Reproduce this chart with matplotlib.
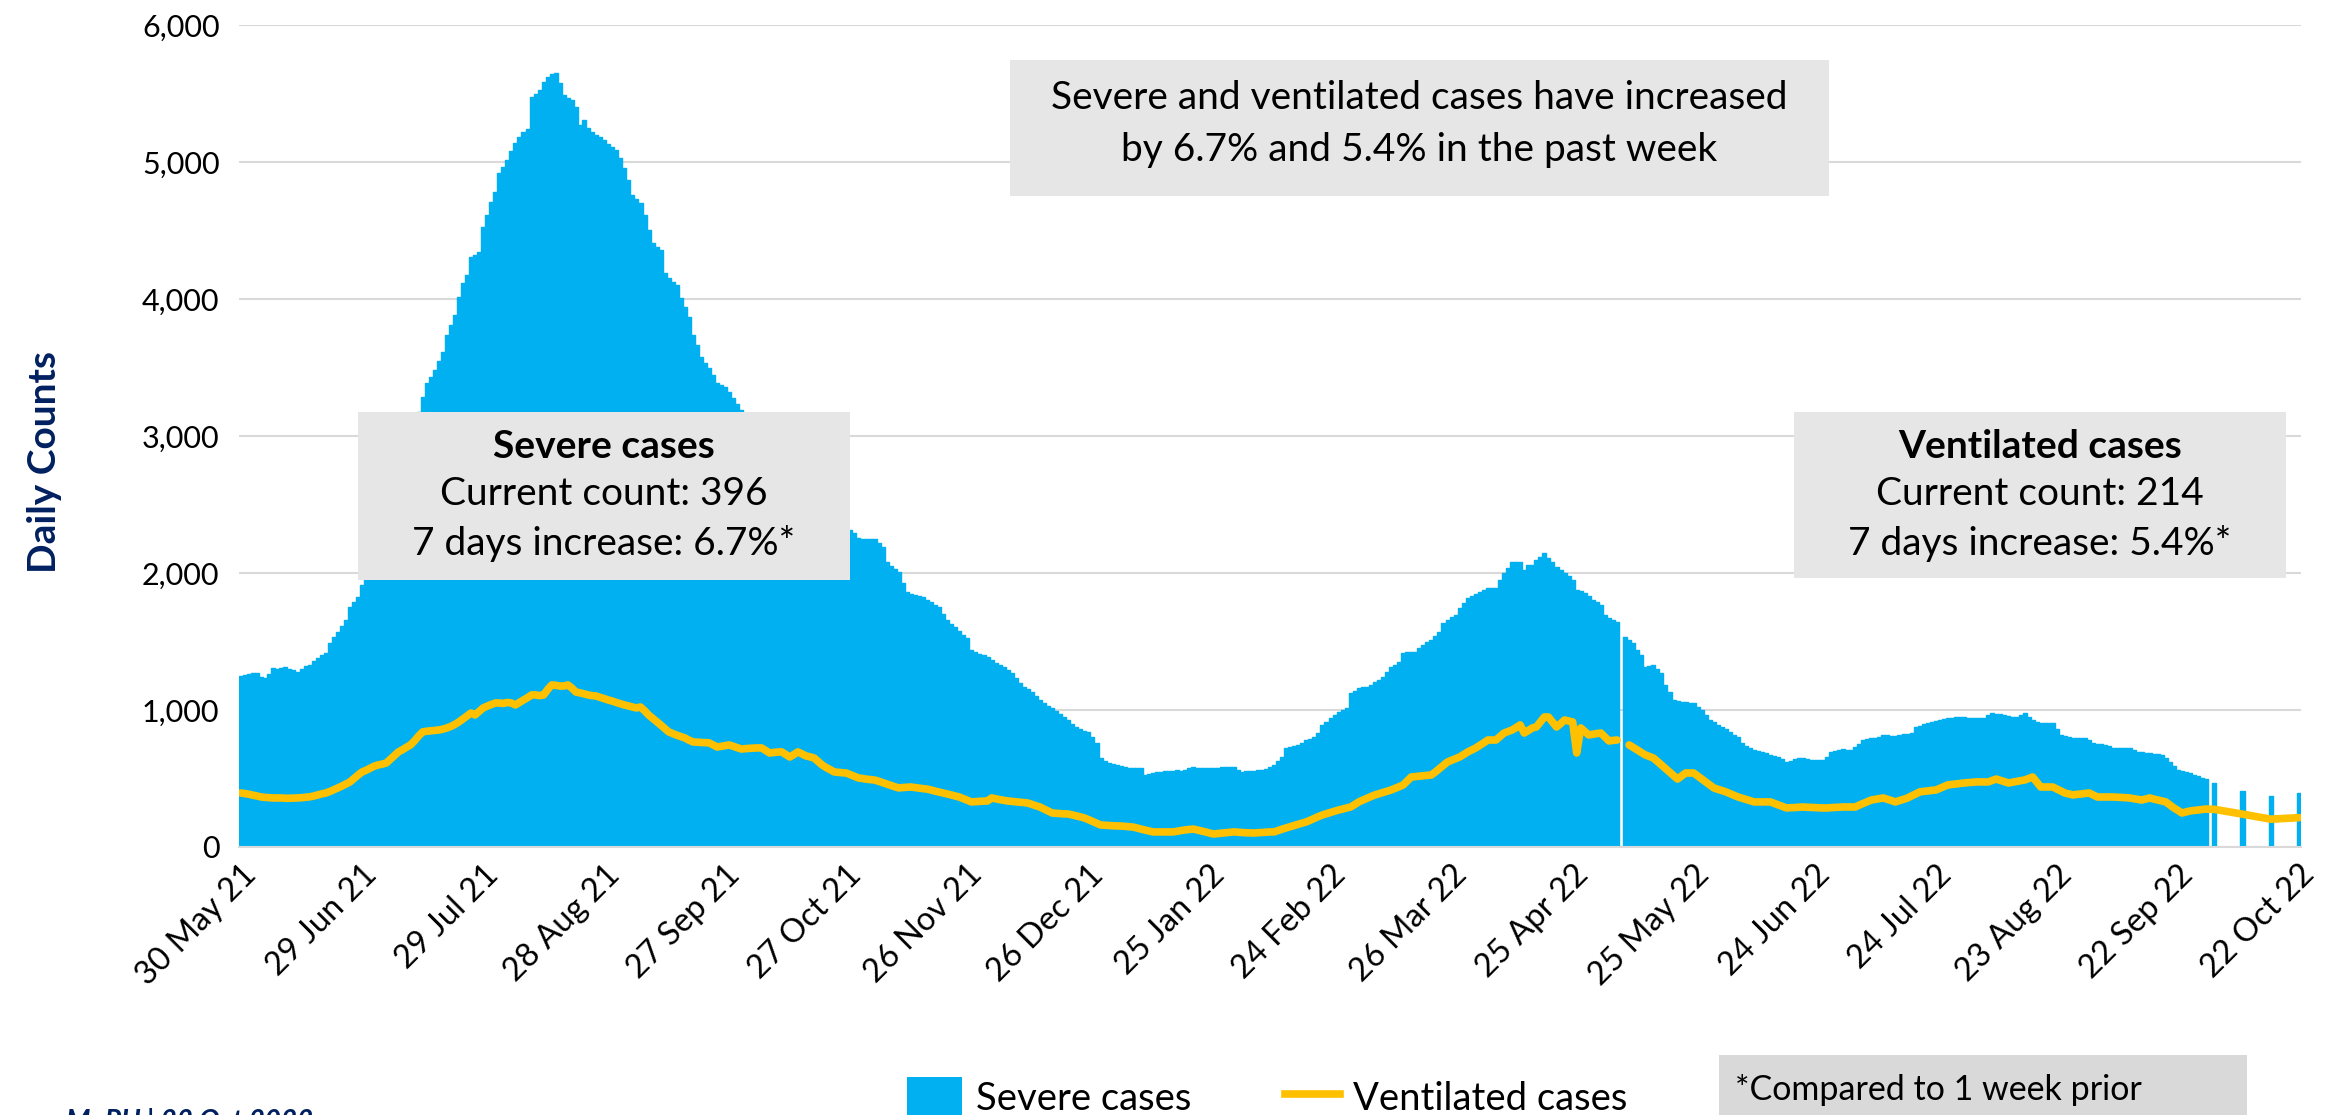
import numpy as np
import matplotlib
matplotlib.use("Agg")
import matplotlib.pyplot as plt
from matplotlib.patches import Rectangle, Patch
from matplotlib.lines import Line2D

nan = float("nan")

# ---------------- data (daily, from 30 May 21 to 22 Oct 22) ----------------
severe = [
    1250, 1255, 1262, 1270, 1270, 1240, 1233, 1260, 1305, 1300,
    1310, 1314, 1300, 1290, 1278, 1300, 1320, 1330, 1355, 1380,
    1400, 1416, 1490, 1530, 1570, 1610, 1657, 1750, 1790, 1825,
    1913, 1990, 2060, 2120, 2200, 2290, 2380, 2470, 2560, 2650,
    2760, 2860, 2960, 3070, 3175, 3285, 3390, 3430, 3480, 3550,
    3614, 3738, 3810, 3884, 4015, 4117, 4176, 4307, 4320, 4343,
    4526, 4614, 4708, 4781, 4920, 4960, 5015, 5080, 5140, 5183,
    5220, 5241, 5475, 5500, 5526, 5585, 5621, 5640, 5650, 5577,
    5490, 5470, 5453, 5402, 5270, 5307, 5249, 5220, 5197, 5180,
    5161, 5130, 5110, 5088, 5030, 4957, 4869, 4760, 4730, 4701,
    4614, 4504, 4409, 4380, 4358, 4190, 4150, 4124, 4103, 4008,
    3942, 3869, 3738, 3665, 3577, 3530, 3497, 3446, 3387, 3370,
    3358, 3320, 3278, 3230, 3190, 3150, 3120, 3080, 3040, 3000,
    2960, 2920, 2880, 2850, 2810, 2780, 2750, 2710, 2680, 2640,
    2610, 2580, 2540, 2510, 2480, 2450, 2420, 2390, 2370, 2350,
    2330, 2314, 2290, 2256, 2250, 2250, 2248, 2248, 2220, 2190,
    2080, 2050, 2030, 2008, 1927, 1862, 1850, 1840, 1832, 1825,
    1805, 1788, 1770, 1752, 1700, 1657, 1630, 1606, 1580, 1550,
    1526, 1438, 1425, 1412, 1402, 1385, 1365, 1345, 1330, 1314,
    1290, 1270, 1230, 1200, 1168, 1150, 1131, 1100, 1073, 1050,
    1030, 1015, 990, 970, 949, 925, 900, 876, 860, 850,
    840, 800, 759, 650, 630, 615, 605, 599, 590, 585,
    577, 580, 578, 577, 526, 530, 540, 545, 548, 552,
    555, 558, 560, 555, 565, 575, 584, 580, 578, 576,
    577, 577, 580, 582, 584, 586, 584, 560, 548, 552,
    556, 558, 560, 562, 570, 585, 599, 630, 660, 723,
    730, 740, 745, 760, 781, 790, 800, 832, 891, 915,
    942, 965, 986, 1000, 1015, 1124, 1140, 1161, 1165, 1168,
    1185, 1205, 1220, 1241, 1280, 1314, 1330, 1350, 1416, 1420,
    1422, 1424, 1450, 1475, 1495, 1511, 1540, 1570, 1635, 1660,
    1680, 1694, 1745, 1780, 1818, 1835, 1850, 1862, 1875, 1891,
    1891, 1891, 1949, 2000, 2040, 2080, 2082, 2080, 2022, 2059,
    2059, 2095, 2120, 2146, 2110, 2080, 2044, 2020, 2000, 1975,
    1949, 1876, 1865, 1854, 1830, 1803, 1785, 1767, 1694, 1675,
    1657, 1642, nan, 1533, 1510, 1489, 1440, 1402, 1314, 1320,
    1329, 1300, 1270, 1183, 1130, 1073, 1065, 1058, 1055, 1053,
    1051, 1025, 1000, 960, 927, 910, 893, 876, 858, 840,
    820, 803, 759, 740, 720, 708, 700, 693, 686, 675,
    665, 657, 640, 621, 630, 640, 648, 650, 642, 635,
    635, 635, 635, 660, 694, 700, 708, 715, 710, 708,
    730, 755, 781, 788, 792, 796, 805, 818, 815, 812,
    810, 815, 822, 828, 832, 876, 885, 895, 905, 912,
    920, 927, 935, 942, 945, 947, 949, 946, 944, 942,
    942, 942, 942, 960, 978, 972, 968, 964, 958, 952,
    949, 960, 978, 950, 927, 915, 905, 905, 905, 905,
    860, 818, 810, 803, 796, 796, 796, 796, 778, 759,
    755, 750, 745, 735, 723, 723, 723, 723, 723, 708,
    694, 690, 688, 686, 680, 676, 672, 650, 621, 590,
    562, 555, 548, 537, 526, 515, 504, 500, nan, 465,
    nan, nan, nan, nan, nan, nan, 410, nan, nan, nan,
    nan, nan, nan, 371, nan, nan, nan, nan, nan, nan,
    396,
]

ventilated = [
    394, 390, 385, 378, 372, 365, 362, 360, 358, 358,
    358, 356, 356, 357, 358, 360, 363, 366, 372, 380,
    388, 394, 405, 418, 431, 445, 460, 475, 500, 525,
    548, 560, 575, 590, 599, 605, 613, 640, 668, 694,
    710, 728, 745, 775, 810, 840, 845, 848, 851, 854,
    860, 869, 880, 895, 913, 935, 958, 978, 964, 990,
    1015, 1028, 1040, 1051, 1051, 1048, 1055, 1051, 1037, 1055,
    1073, 1090, 1110, 1110, 1105, 1110, 1150, 1183, 1180, 1175,
    1175, 1183, 1160, 1131, 1125, 1118, 1110, 1105, 1102, 1092,
    1083, 1073, 1065, 1055, 1046, 1037, 1030, 1022, 1015, 1022,
    995, 964, 940, 915, 891, 865, 840, 828, 816, 806,
    796, 780, 767, 765, 763, 762, 760, 745, 730, 735,
    740, 745, 735, 725, 715, 718, 720, 722, 723, 723,
    705, 686, 690, 693, 694, 675, 657, 675, 694, 680,
    665, 658, 650, 625, 599, 580, 565, 548, 545, 542,
    540, 528, 516, 504, 500, 495, 492, 489, 480, 470,
    460, 450, 440, 431, 434, 436, 438, 434, 430, 426,
    423, 416, 408, 401, 394, 387, 380, 372, 365, 353,
    341, 329, 331, 333, 335, 336, 358, 352, 346, 341,
    336, 333, 330, 327, 324, 321, 311, 301, 292, 277,
    263, 248, 246, 244, 242, 241, 234, 227, 220, 212,
    200, 187, 174, 161, 159, 157, 155, 154, 153, 151,
    148, 146, 139, 131, 124, 117, 110, 110, 110, 110,
    110, 110, 115, 120, 125, 128, 131, 124, 117, 110,
    102, 95, 98, 101, 104, 107, 110, 108, 106, 104,
    103, 102, 104, 106, 108, 110, 110, 120, 130, 139,
    148, 157, 166, 175, 183, 196, 209, 222, 234, 243,
    252, 261, 270, 277, 285, 292, 310, 329, 342, 355,
    368, 380, 389, 398, 407, 416, 428, 440, 453, 482,
    511, 514, 517, 520, 523, 526, 548, 572, 597, 621,
    633, 645, 657, 675, 694, 708, 723, 742, 761, 781,
    781, 781, 806, 832, 843, 854, 872, 891, 832, 850,
    869, 876, 912, 949, 949, 912, 876, 900, 927, 920,
    913, 686, 869, 843, 818, 823, 828, 832, 803, 774,
    778, 781, nan, nan, 745, 727, 709, 690, 672, 661,
    650, 625, 599, 573, 547, 522, 496, 518, 540, 540,
    540, 518, 497, 475, 453, 431, 421, 412, 402, 390,
    377, 365, 356, 347, 338, 329, 329, 329, 329, 329,
    318, 307, 296, 285, 287, 288, 290, 292, 290, 289,
    288, 286, 285, 285, 287, 289, 290, 292, 292, 292,
    292, 305, 318, 330, 343, 348, 353, 358, 348, 339,
    329, 339, 348, 358, 373, 387, 402, 406, 409, 413,
    416, 428, 441, 453, 457, 460, 464, 467, 470, 472,
    475, 475, 475, 475, 486, 496, 486, 477, 467, 473,
    478, 484, 489, 500, 511, 475, 438, 438, 438, 438,
    423, 409, 394, 387, 380, 384, 387, 391, 394, 380,
    365, 365, 365, 365, 365, 363, 362, 360, 358, 353,
    348, 343, 350, 358, 350, 343, 336, 329, 307, 285,
    267, 248, 256, 263, 267, 270, 274, 277, nan, 275,
    nan, nan, nan, nan, nan, nan, 240, nan, nan, nan,
    nan, nan, nan, 203, nan, nan, nan, nan, nan, nan,
    214,
]

tick_days = [0, 30, 60, 90, 120, 150, 180, 210, 240, 270, 300, 330,
             360, 390, 420, 450, 480, 510]
tick_labels = ["30 May 21", "29 Jun 21", "29 Jul 21", "28 Aug 21", "27 Sep 21",
               "27 Oct 21", "26 Nov 21", "26 Dec 21", "25 Jan 22", "24 Feb 22",
               "26 Mar 22", "25 Apr 22", "25 May 22", "24 Jun 22", "24 Jul 22",
               "23 Aug 22", "22 Sep 22", "22 Oct 22"]
y_ticks = [0, 1000, 2000, 3000, 4000, 5000, 6000]

# ---------------- styling ----------------
W, H = 2335, 1115
CYAN = "#00B0F0"
GOLD = "#FFC000"
NAVY = "#002060"
BOXGREY = "#E7E6E6"
plt.rcParams["font.family"] = ["Lato", "DejaVu Sans"]

def fx(x):
    return x / W

def fy(y):
    return 1 - y / H

fig = plt.figure(figsize=(W / 100, H / 100), dpi=100)
ax = fig.add_axes([fx(239), fy(847), fx(2301) - fx(239), fy(25) - fy(847)])

days = np.arange(len(severe))
sev = np.array(severe, dtype=float)
ven = np.array(ventilated, dtype=float)

ok = ~np.isnan(sev)
ax.bar(days[ok], sev[ok], width=1.0, color=CYAN, edgecolor=CYAN,
       linewidth=1.0, joinstyle="round", zorder=2)

# ventilated: daily part (with its gap) then the weekly tail joined up
split = 342
ax.plot(days[:split], ven[:split], color=GOLD, lw=5.5, solid_capstyle="round",
        solid_joinstyle="round", zorder=3)
tail = days[split:]
tv = ven[split:]
m = ~np.isnan(tv)
ax.plot(tail[m], tv[m], color=GOLD, lw=5.5, solid_capstyle="round",
        solid_joinstyle="round", zorder=3)

ax.set_xlim(-0.5, len(severe) - 0.5)
ax.set_ylim(0, 6000)
ax.set_yticks(y_ticks)
ax.set_yticklabels([f"{v:,}" for v in y_ticks])
ax.set_xticks(tick_days)
ax.set_xticklabels(tick_labels, rotation=45, ha="right", va="top",
                   rotation_mode="anchor")
ax.tick_params(axis="y", length=0, pad=14, labelsize=22, labelcolor="#000000")
ax.tick_params(axis="x", length=0, pad=9, labelsize=23.5, labelcolor="#000000")
ax.grid(axis="y", color="#D9D9D9", lw=1.5, zorder=0)
ax.set_axisbelow(True)
for s in ["top", "right", "left"]:
    ax.spines[s].set_visible(False)
ax.spines["bottom"].set_color("#D9D9D9")
ax.spines["bottom"].set_linewidth(1.5)
ax.spines["bottom"].set_zorder(4)

fig.text(fx(45), fy(462), "Daily Counts", rotation=90, ha="center", va="center",
         fontsize=28, fontweight="bold", color=NAVY)

def box(x0, y0, x1, y1, color=BOXGREY):
    fig.add_artist(Rectangle((fx(x0), fy(y1)), fx(x1) - fx(x0), fy(y0) - fy(y1),
                             transform=fig.transFigure, facecolor=color,
                             edgecolor="none", zorder=5))

BOXFS = 28
# top message box
box(1010, 60, 1829, 196)
fig.text(fx(1419), fy(98), "Severe and ventilated cases have increased",
         ha="center", va="center", fontsize=BOXFS, zorder=6)
fig.text(fx(1419), fy(150), "by 6.7% and 5.4% in the past week",
         ha="center", va="center", fontsize=BOXFS, zorder=6)

# severe box
box(358, 412, 850, 580)
fig.text(fx(604), fy(447), "Severe cases", ha="center", va="center",
         fontsize=BOXFS, fontweight="bold", zorder=6)
fig.text(fx(604), fy(494), "Current count: 396", ha="center", va="center",
         fontsize=BOXFS, zorder=6)
fig.text(fx(604), fy(543), "7 days increase: 6.7%*", ha="center", va="center",
         fontsize=BOXFS, zorder=6)

# ventilated box
box(1794, 412, 2286, 578)
fig.text(fx(2040), fy(447), "Ventilated cases", ha="center", va="center",
         fontsize=BOXFS, fontweight="bold", zorder=6)
fig.text(fx(2040), fy(494), "Current count: 214", ha="center", va="center",
         fontsize=BOXFS, zorder=6)
fig.text(fx(2040), fy(543), "7 days increase: 5.4%*", ha="center", va="center",
         fontsize=BOXFS, zorder=6)

# footnote box
box(1719, 1055, 2247, 1130, color="#D9D9D9")
fig.text(fx(1735), fy(1090), "*Compared to 1 week prior", ha="left", va="center",
         fontsize=24.5, zorder=6)

# legend
handles = [Patch(facecolor=CYAN, edgecolor="none"),
           Line2D([0], [0], color=GOLD, lw=5.5)]
fig.legend(handles, ["Severe cases", "Ventilated cases"], loc="center left",
           bbox_to_anchor=(fx(907), fy(1097)), ncol=2, frameon=False,
           fontsize=27.5, handlelength=1.45, handleheight=1.2, handletextpad=0.35,
           columnspacing=2.45, borderpad=0, borderaxespad=0)

# source (mostly cut off at the bottom edge)
fig.text(fx(313), fy(1108), "Source: MoPH | 22 Oct 2022", ha="right", va="top",
         fontsize=20, fontweight="bold", fontstyle="italic", color=NAVY)

fig.savefig("out.png", dpi=100)
